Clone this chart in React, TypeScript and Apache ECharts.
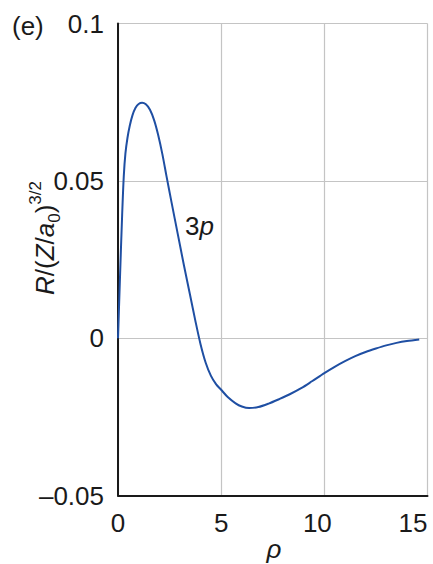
import React, { useEffect, useRef } from "react";
import * as echarts from "echarts";

const rhoValues = [0, 0.1, 0.2, 0.28, 0.36, 0.46, 0.57, 0.7, 0.85, 1.0, 1.17, 1.35, 1.55, 1.75, 1.95, 2.15, 2.35, 2.6, 2.9, 3.2, 3.5, 3.75, 4.0, 4.25, 4.5, 4.75, 5.0, 5.33, 5.7, 6.0, 6.35, 6.8, 7.3, 7.8, 8.3, 8.9, 9.4, 10.0, 10.5, 11.0, 11.5, 12.0, 12.5, 13.0, 13.5, 14.0, 14.6];
const rValues = [0, 0.02, 0.039, 0.0515, 0.0587, 0.0637, 0.0675, 0.0708, 0.0732, 0.0744, 0.0748, 0.0743, 0.0726, 0.0693, 0.0645, 0.0585, 0.0515, 0.043, 0.033, 0.023, 0.0135, 0.0055, -0.0019, -0.0078, -0.0119, -0.0146, -0.0164, -0.0188, -0.0207, -0.0217, -0.0222, -0.0219, -0.0208, -0.0194, -0.0179, -0.0158, -0.0137, -0.0111, -0.0091, -0.0073, -0.0057, -0.0044, -0.0033, -0.0023, -0.0015, -0.0009, -0.0004];
const yTickLabels: Record<string, string> = { "-0.05": "\u20130.05", "0": "0", "0.05": "0.05", "0.1": "0.1" };
const xTickLabels: Record<string, string> = { "0": "{c|0}", "5": "{c|5}", "10": "{t|10}", "15": "{c|15}" };

const FONT = "Liberation Sans, Arial, sans-serif";
const FS = 26;

export default function App() {
  const ref = useRef<HTMLDivElement>(null);
  useEffect(() => {
    if (!ref.current) return;
    const chart = echarts.init(ref.current, undefined, { renderer: "svg" });
    const data = rhoValues.map((x, i) => [x, rValues[i]]);
    chart.setOption({
      animation: false,
      backgroundColor: "#ffffff",
      grid: { left: 118, right: 5.5, top: 23.5, bottom: 68.5, containLabel: false },
      xAxis: {
        type: "value",
        min: 0,
        max: 15,
        interval: 5,
        axisLine: { show: true, onZero: false, lineStyle: { color: "#1a1a1a", width: 2 } },
        axisTick: { show: false },
        splitLine: { show: true, lineStyle: { color: "#c4c4c4", width: 1.2 } },
        axisLabel: {
          margin: 14,
          color: "#1a1a1a",
          fontFamily: FONT,
          fontSize: FS,
          alignMaxLabel: "right",
          formatter: (v: number) => xTickLabels[String(Math.round(v))] ?? String(v),
          rich: {
            c: { fontFamily: FONT, fontSize: FS, color: "#1a1a1a" },
            t: { fontFamily: FONT, fontSize: FS, color: "#1a1a1a", padding: [0, 14, 0, 0] },
          },
        },
      },
      yAxis: {
        type: "value",
        min: -0.05,
        max: 0.1,
        interval: 0.05,
        axisLine: { show: true, onZero: false, lineStyle: { color: "#1a1a1a", width: 2 } },
        axisTick: { show: false },
        splitLine: { show: true, lineStyle: { color: "#c4c4c4", width: 1.2 } },
        axisLabel: {
          margin: 14,
          color: "#1a1a1a",
          fontFamily: FONT,
          fontSize: FS,
          formatter: (v: number) => {
            const k = String(Math.round(v * 100) / 100);
            return yTickLabels[k] ?? k;
          },
        },
      },
      series: [
        {
          type: "line",
          data,
          smooth: 0.3,
          showSymbol: false,
          symbol: "none",
          lineStyle: { color: "#1f4fa3", width: 2 },
        },
      ],
      graphic: [
        {
          type: "text",
          x: 12,
          y: 26,
          style: { text: "(e)", font: `${FS}px ${FONT}`, fill: "#1a1a1a", verticalAlign: "middle" },
        },
        {
          type: "text",
          x: 185,
          y: 226,
          style: {
            text: "{n|3}{i|p}",
            verticalAlign: "middle",
            rich: {
              n: { font: `${FS}px ${FONT}`, fill: "#1a1a1a" },
              i: { font: `italic ${FS}px ${FONT}`, fill: "#1a1a1a" },
            },
          },
        },
        {
          type: "text",
          x: 274,
          y: 549,
          style: { text: "\u03c1", font: `italic ${FS}px ${FONT}`, fill: "#1a1a1a", align: "center", verticalAlign: "middle" },
        },
        {
          type: "text",
          x: 45,
          y: 238,
          rotation: Math.PI / 2,
          style: {
            text: "{i|R}{n|/(}{i|Z}{n|/}{i|a}{sub|0}{n|)}{sup|3/2}",
            align: "center",
            verticalAlign: "middle",
            rich: {
              n: { font: `${FS}px ${FONT}`, fill: "#1a1a1a", lineHeight: 36, verticalAlign: "middle" },
              i: { font: `italic ${FS}px ${FONT}`, fill: "#1a1a1a", lineHeight: 36, verticalAlign: "middle" },
              sub: { font: `17px ${FONT}`, fill: "#1a1a1a", lineHeight: 36, verticalAlign: "bottom" },
              sup: { font: `17px ${FONT}`, fill: "#1a1a1a", lineHeight: 36, verticalAlign: "top" },
            },
          },
        },
      ],
    });
    return () => chart.dispose();
  }, []);
  return <div ref={ref} style={{ width: 433, height: 564, position: "absolute", left: 0, top: 0 }} />;
}
